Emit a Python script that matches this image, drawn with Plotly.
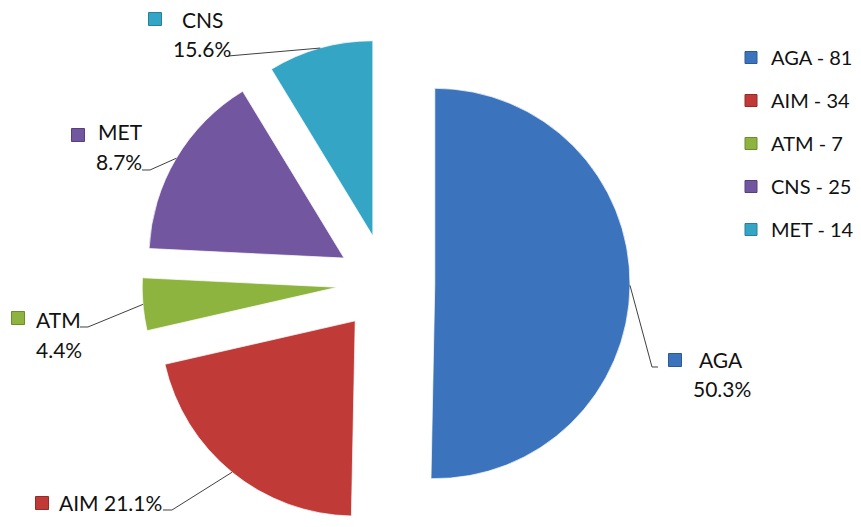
import math
import plotly.graph_objects as go

# ---------------- data ----------------
categories = ["AGA", "AIM", "ATM", "CNS", "MET"]
values = [81, 34, 7, 25, 14]
slice_colors = ["#3B74BD", "#C03A37", "#8DB43E", "#7256A0", "#35A5C5"]
edge_colors = ["#2C5A94", "#962B29", "#6C8C2E", "#56407C", "#27809A"]
legend_labels = [f"{c} - {v}" for c, v in zip(categories, values)]
# data-label texts exactly as printed on the reference chart
label_names = ["AGA", "AIM", "ATM", "MET", "CNS"]
label_pcts = ["50.3%", "21.1%", "4.4%", "8.7%", "15.6%"]

# ---------------- layout geometry ----------------
# the page body has an 8px default margin: size the figure so it fills the window
OFF = 8
W, H = 861 - OFF, 527 - OFF
M = dict(l=0, r=97, t=31, b=0)
PW = W - M["l"] - M["r"]
PH = H - M["t"] - M["b"]
PULL = 0.25
FONT = "Lato"
TXT = "#111111"


def px(x):  # window pixel -> paper
    return (x - OFF - M["l"]) / PW


def py(y):
    return 1 - (y - OFF - M["t"]) / PH


cx = OFF + M["l"] + PW / 2
cy = OFF + M["t"] + PH / 2
R = min(PW, PH) / (2 + 2 * PULL)
total = sum(values)

# outer mid-arc point of each exploded slice (where leader lines end)
tips = []
cum = 0
for v in values:
    th = 2 * math.pi * (cum + v / 2) / total
    d = R * (1 + PULL)
    tips.append((cx + d * math.sin(th), cy - d * math.cos(th)))
    cum += v

# label placement (window pixels): square centre, name, pct, leader start points
label_layout = [
    dict(sq=(675, 360), name=(697, 359), pct=(691, 388), lead=[(658, 367), (652, 367)], inline=False),
    dict(sq=(42, 503), name=(57, 502), pct=None, lead=[(163, 510), (172, 510)], inline=True),
    dict(sq=(18, 318), name=(34, 319), pct=(34, 349), lead=[(80, 327), (88, 327)], inline=False),
    dict(sq=(78, 135), name=(96, 132), pct=(94, 161), lead=[(142, 170), (150, 170)], inline=False),
    dict(sq=(155, 19), name=(180, 19), pct=(171, 49), lead=[(228, 56)], inline=False),
]

fig = go.Figure()

fig.add_trace(go.Pie(
    labels=categories,
    values=values,
    sort=False,
    direction="clockwise",
    rotation=0,
    pull=PULL,
    marker=dict(colors=slice_colors, line=dict(color="rgba(255,255,255,0.7)", width=1)),
    textinfo="none",
    showlegend=False,
    hoverinfo="label+value+percent",
    domain=dict(x=[0, 1], y=[0, 1]),
))

# legend entries
for lab, col, ec in zip(legend_labels, slice_colors, edge_colors):
    fig.add_trace(go.Scatter(
        x=[None], y=[None], mode="markers", name=lab, legendgroup=lab,
        marker=dict(symbol="square", size=12, color=col, line=dict(color=ec, width=1)),
        hoverinfo="skip", showlegend=True,
    ))

annotations = []
shapes = []
for i, lay in enumerate(label_layout):
    sx, sy = lay["sq"]
    shapes.append(dict(
        type="rect", xref="paper", yref="paper",
        x0=px(sx - 6.5), x1=px(sx + 6.5), y0=py(sy + 6.5), y1=py(sy - 6.5),
        fillcolor=slice_colors[i], line=dict(color=edge_colors[i], width=1),
    ))
    name_text = label_names[i] + (" " + label_pcts[i] if lay["inline"] else "")
    nx, ny = lay["name"]
    annotations.append(dict(
        text=name_text, x=px(nx), y=py(ny), xref="paper", yref="paper",
        xanchor="left", yanchor="middle", showarrow=False,
        font=dict(family=FONT, size=21, color=TXT),
    ))
    if lay["pct"] is not None:
        qx, qy = lay["pct"]
        annotations.append(dict(
            text=label_pcts[i], x=px(qx), y=py(qy), xref="paper", yref="paper",
            xanchor="left", yanchor="middle", showarrow=False,
            font=dict(family=FONT, size=21, color=TXT),
        ))
    pts = lay["lead"] + [tips[i]]
    path = "M " + " L ".join(f"{px(a):.5f},{py(b):.5f}" for a, b in pts)
    shapes.append(dict(type="path", xref="paper", yref="paper", path=path,
                       line=dict(color="#404040", width=1)))

fig.update_layout(
    width=W, height=H,
    margin=dict(l=M["l"], r=M["r"], t=M["t"], b=M["b"], pad=0, autoexpand=False),
    paper_bgcolor="white", plot_bgcolor="white",
    xaxis=dict(visible=False), yaxis=dict(visible=False),
    showlegend=True,
    legend=dict(
        x=px(731), xanchor="left", y=py(38), yanchor="top",
        font=dict(family=FONT, size=20, color=TXT),
        tracegroupgap=14, traceorder="grouped",
        bgcolor="rgba(0,0,0,0)",
    ),
    annotations=annotations,
    shapes=shapes,
)

fig.write_html("out.html")
